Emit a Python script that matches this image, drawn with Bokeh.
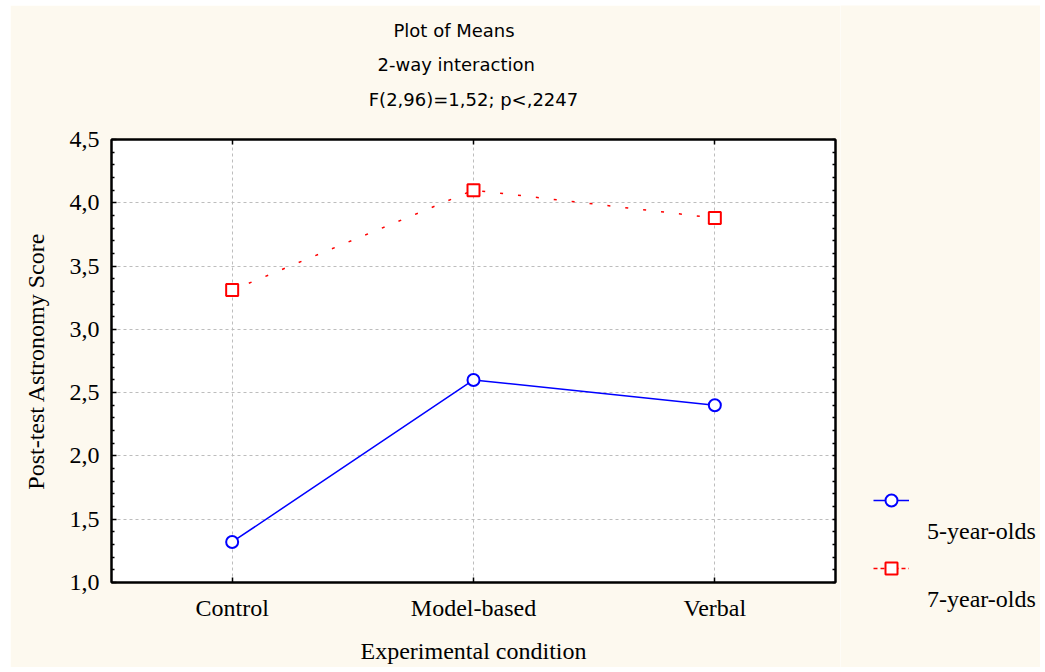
from bokeh.plotting import figure
from bokeh.layouts import row
from bokeh.models import (FactorRange, Range1d, LinearAxis, FixedTicker,
                          CustomJSTickFormatter, Legend, LegendItem, Title, ColumnDataSource)
from bokeh.core.properties import value
from bokeh.embed import file_html
from bokeh.resources import INLINE

# ---- data ----
conditions = ["Control", "Model-based", "Verbal"]
five_year_olds = [1.32, 2.60, 2.40]
seven_year_olds = [3.31, 4.10, 3.88]
series_names = ["5-year-olds", "7-year-olds"]
y_ticks = [1.0, 1.5, 2.0, 2.5, 3.0, 3.5, 4.0, 4.5]
y_minor_ticks = [1.1, 1.2, 1.3, 1.4, 1.6, 1.7, 1.8, 1.9, 2.1, 2.2, 2.3, 2.4, 2.6, 2.7, 2.8, 2.9,
                 3.1, 3.2, 3.3, 3.4, 3.6, 3.7, 3.8, 3.9, 4.1, 4.2, 4.3, 4.4]
category_centers = [0.5, 1.5, 2.5]
title_lines = ["Plot of Means", "2-way interaction", "F(2,96)=1,52; p<,2247"]
title_offsets = [282, 266]
title_standoffs = [0, 22]
x_label = "Experimental condition"
y_label = "Post-test Astronomy Score"

CREAM = "#fdf9ef"
SERIF = "Liberation Serif"
SANS = "DejaVu Sans"
BLUE = "#0000ff"
RED = "#ff0000"

p = figure(x_range=FactorRange(*conditions), y_range=Range1d(1.0, 4.5),
           width=830, height=662, output_backend="svg", toolbar_location=None, title=None,
           min_border_left=101, min_border_right=5, min_border_top=134, min_border_bottom=85,
           background_fill_color="white", border_fill_color=CREAM,
           outline_line_color="black", outline_line_width=2,
           x_axis_label=x_label, y_axis_label=y_label)
p.margin = (5, 0, 5, 10)

ticker = FixedTicker(ticks=y_ticks, minor_ticks=y_minor_ticks)
comma_fmt = CustomJSTickFormatter(code="return tick.toFixed(1).replace('.', ',');")

# grid
p.ygrid.ticker = ticker
for g in (p.xgrid, p.ygrid):
    g.grid_line_color = "#bdbdbd"
    g.grid_line_dash = "3 3"
    g.grid_line_width = 1

def style_axis(ax):
    ax.axis_line_color = "black"
    ax.axis_line_width = 2
    ax.major_tick_in = 5
    ax.major_tick_out = 0
    ax.minor_tick_in = 3
    ax.minor_tick_out = 0
    ax.major_tick_line_color = "black"
    ax.major_tick_line_width = 1.5
    ax.minor_tick_line_color = "black"
    ax.minor_tick_line_width = 1.5
    ax.major_label_text_font = SERIF
    ax.major_label_text_font_size = "24px"
    ax.major_label_text_color = "black"
    ax.axis_label_text_font = SERIF
    ax.axis_label_text_font_size = "24px"
    ax.axis_label_text_font_style = "normal"
    ax.axis_label_text_color = "black"

yax = p.yaxis[0]
yax.ticker = ticker
yax.formatter = comma_fmt
xax = p.xaxis[0]
style_axis(yax)
style_axis(xax)
yax.major_label_standoff = 12
yax.axis_label_standoff = 18
xax.major_label_standoff = 12
xax.axis_label_standoff = 14

# right axis: ticks only (no labels)
rax = LinearAxis(ticker=FixedTicker(ticks=[], minor_ticks=sorted(y_ticks + y_minor_ticks)))
style_axis(rax)
rax.major_label_standoff = 0
p.add_layout(rax, "right")

# top axis: ticks at category centres; carries the statistics line of the title
tax = LinearAxis(ticker=FixedTicker(ticks=[], minor_ticks=category_centers),
                 axis_label=title_lines[2])
style_axis(tax)
tax.minor_tick_in = 5
tax.major_label_standoff = 0
tax.axis_label_text_font = SANS
tax.axis_label_text_font_size = "18px"
tax.axis_label_standoff = 30
p.add_layout(tax, "above")

# remaining title lines (added nearest-frame first)
for txt, off, so in reversed(list(zip(title_lines[:2], title_offsets, title_standoffs))):
    p.add_layout(Title(text=txt, align="left", offset=off, text_font=SANS,
                       text_font_size="18px", text_font_style="normal",
                       text_color="black", standoff=so), "above")

# data
src = ColumnDataSource(dict(cond=conditions, five=five_year_olds, seven=seven_year_olds))
p.line("cond", "five", source=src, line_color=BLUE, line_width=1.5)
p.scatter("cond", "five", source=src, marker="circle", size=12,
          fill_color="white", line_color=BLUE, line_width=2)
p.line("cond", "seven", source=src, line_color=RED, line_width=1.5, line_dash="3 15")
p.scatter("cond", "seven", source=src, marker="square", size=12,
          fill_color="white", line_color=RED, line_width=2)

# ---- legend panel (separate figure to the right; its series sit outside its view) ----
lf = figure(width=200, height=662, output_backend="svg", toolbar_location=None,
            x_range=FactorRange(*conditions), y_range=Range1d(100, 101),
            x_axis_type=None, y_axis_type=None, title=None,
            min_border_left=0, min_border_right=0, min_border_top=0, min_border_bottom=0,
            background_fill_color=CREAM, border_fill_color=CREAM, outline_line_color=None)
lf.margin = (5, 5, 5, 0)
for fig in (p, lf):
    if hasattr(fig, "frame_align"):
        fig.frame_align = False
l5 = lf.line("cond", "five", source=src, line_color=BLUE, line_width=1.5)
m5 = lf.scatter("cond", "five", source=src, marker="circle", fill_color="white",
                line_color=BLUE, line_width=2)
l7 = lf.line("cond", "seven", source=src, line_color=RED, line_width=1.5, line_dash="4 3")
m7 = lf.scatter("cond", "seven", source=src, marker="square", fill_color="white",
                line_color=RED, line_width=2)
blank = lf.scatter("cond", "five", source=src, fill_alpha=0, line_alpha=0)

# glyph keys
leg_glyphs = Legend(items=[LegendItem(label=value(""), renderers=[l5, m5]),
                           LegendItem(label=value(""), renderers=[l7, m7])],
                    location=(33, 84), orientation="vertical", padding=0, margin=0,
                    spacing=38, glyph_width=36, glyph_height=30, label_height=30,
                    label_standoff=0, label_text_font=SERIF, label_text_font_size="24px",
                    border_line_color=None, background_fill_alpha=0)
# key labels, set below-right of the keys as in the original
leg_labels = Legend(items=[LegendItem(label=value(series_names[0]), renderers=[blank]),
                           LegendItem(label=value(series_names[1]), renderers=[blank])],
                    location=(87, 53), orientation="vertical", padding=0, margin=0,
                    spacing=38, glyph_width=0, glyph_height=30, label_height=30,
                    label_standoff=0, label_text_font=SERIF, label_text_font_size="24px",
                    label_text_color="black",
                    border_line_color=None, background_fill_alpha=0)
lf.add_layout(leg_glyphs, "center")
lf.add_layout(leg_labels, "center")

open("out.html", "w").write(file_html(row(p, lf), INLINE))
